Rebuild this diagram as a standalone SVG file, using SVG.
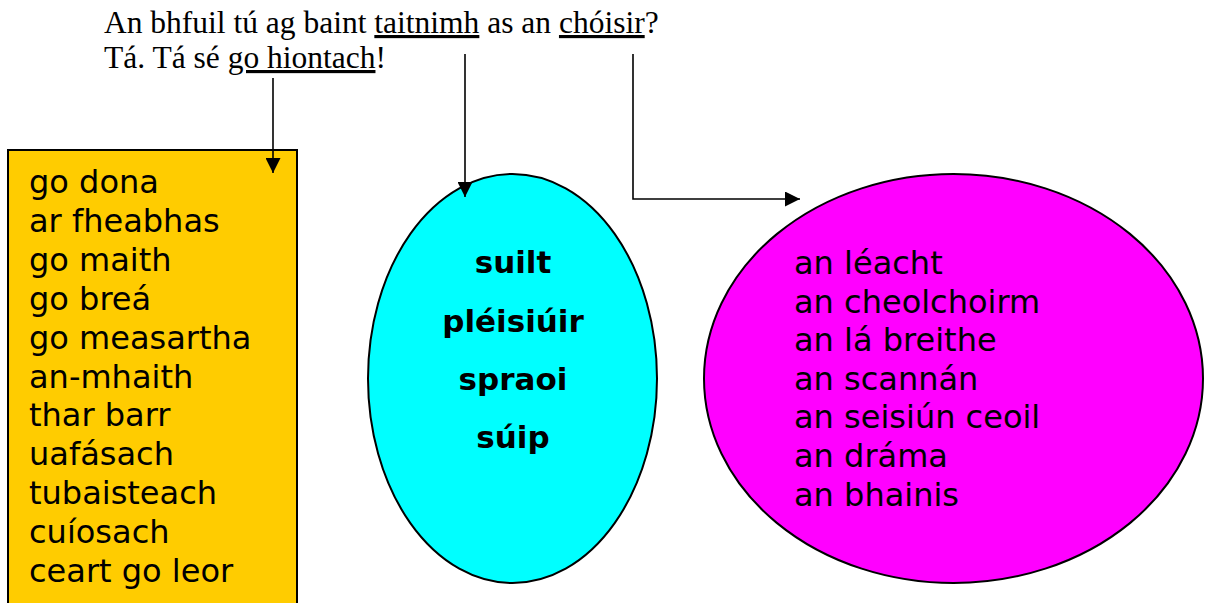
<svg xmlns="http://www.w3.org/2000/svg" width="1207" height="603" viewBox="0 0 1207 603">
<style>
.q{font-family:"Liberation Serif","Times New Roman",serif;font-size:31.5px;fill:#000}
.u{text-decoration:underline}
.w{font-family:"DejaVu Sans",Verdana,sans-serif;font-size:32px;fill:#000}
.b{font-family:"DejaVu Sans",Verdana,sans-serif;font-size:31px;font-weight:bold;fill:#000;text-anchor:middle}
.shape{stroke:#000;stroke-width:2}
.conn{fill:none;stroke:#000;stroke-width:1.6}
</style>
<defs>
<marker id="ah" viewBox="0 0 10 10" refX="10" refY="5" markerWidth="15" markerHeight="15" markerUnits="userSpaceOnUse" orient="auto">
<path d="M0,0 L10,5 L0,10 Z" fill="#000"/>
</marker>
</defs>
<rect width="1207" height="603" fill="#fff"/>
<g id="question">
<text class="q" x="104" y="33">An bhfuil tú ag baint <tspan class="u">taitnimh</tspan> as an <tspan class="u">chóisir</tspan>?</text>
<text class="q" x="104" y="68">Tá. Tá sé <tspan class="u">go hiontach</tspan>!</text>
</g>
<g id="box-adverbs">
<rect class="shape" x="8" y="150" width="289" height="470" fill="#FFCC00"/>
<text class="w" x="29" y="193">go dona</text>
<text class="w" x="29" y="232">ar fheabhas</text>
<text class="w" x="29" y="271">go maith</text>
<text class="w" x="29" y="310">go breá</text>
<text class="w" x="29" y="349">go measartha</text>
<text class="w" x="29" y="388">an-mhaith</text>
<text class="w" x="29" y="426">thar barr</text>
<text class="w" x="29" y="465">uafásach</text>
<text class="w" x="29" y="504">tubaisteach</text>
<text class="w" x="29" y="543">cuíosach</text>
<text class="w" x="29" y="582">ceart go leor</text>
</g>
<g id="ellipse-nouns">
<ellipse class="shape" cx="512.5" cy="378.5" rx="144.5" ry="204.5" fill="#00FFFF"/>
<text class="b" x="513" y="273">suilt</text>
<text class="b" x="513" y="332">pléisiúir</text>
<text class="b" x="513" y="390">spraoi</text>
<text class="b" x="513" y="448">súip</text>
</g>
<g id="ellipse-events">
<ellipse class="shape" cx="953.5" cy="378.5" rx="249.5" ry="204.5" fill="#FF00FF"/>
<text class="w" x="794" y="274">an léacht</text>
<text class="w" x="794" y="313">an cheolchoirm</text>
<text class="w" x="794" y="351">an lá breithe</text>
<text class="w" x="794" y="390">an scannán</text>
<text class="w" x="794" y="428">an seisiún ceoil</text>
<text class="w" x="794" y="467">an dráma</text>
<text class="w" x="794" y="506">an bhainis</text>
</g>
<g id="connectors">
<path class="conn" d="M273,78 V173" marker-end="url(#ah)"/>
<path class="conn" d="M465,54 V197" marker-end="url(#ah)"/>
<path class="conn" d="M633,54 V199 H800" marker-end="url(#ah)"/>
</g>
</svg>
